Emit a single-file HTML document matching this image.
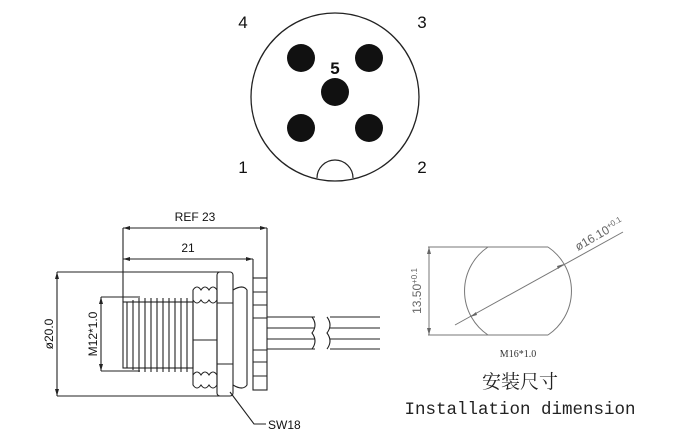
<!DOCTYPE html><html><head><style>body{margin:0;background:#fff}svg{display:block}</style></head><body>
<svg width="680" height="440" viewBox="0 0 680 440" xmlns="http://www.w3.org/2000/svg" font-family="Liberation Sans, sans-serif">
<circle cx="335" cy="97" r="84" fill="none" stroke="#222" stroke-width="1.3"/>
<path d="M317 178 A18 18 0 0 1 353 178" fill="none" stroke="#222" stroke-width="1.2"/>
<g fill="#111"><circle cx="301" cy="58" r="14"/><circle cx="369" cy="58" r="14"/><circle cx="335" cy="92" r="14"/><circle cx="301" cy="128" r="14"/><circle cx="369" cy="128" r="14"/></g>
<g font-size="17" text-anchor="middle" fill="#111"><text x="243" y="28">4</text><text x="422" y="28">3</text><text x="335" y="74" font-weight="bold">5</text><text x="243" y="173">1</text><text x="422" y="173">2</text></g>
<g stroke="#222" stroke-width="1.1" fill="none">
<path d="M123 228H267M123 259H253M123 228V302M267 228V278M253 259V278"/>
<path d="M57 272V396M57 272H227M57 396H227M101 297V371M101 297H140M101 371H140"/>
<rect x="123" y="302" width="70" height="66"/>
<path d="M127 302V368M133 300V370M139 298V372M145 298V372M151 298V372M157 298V372M163 298V372M169 298V372M175 298V372M181 298V372M187 298V372"/>
<path d="M193 290 q4 -6 8 0 q4 -6 8 0 q4 -6 8 0 V385 q-4 6 -8 0 q-4 6 -8 0 q-4 6 -8 0Z"/>
<path d="M193 300 q4 6 8 0 q4 6 8 0 q4 6 8 0M193 375 q4 -6 8 0 q4 -6 8 0 q4 -6 8 0M193 340H217"/>
<rect x="217" y="272" width="16" height="124" rx="3"/>
<path d="M217 303H233M217 364H233M233 290 q10 -6 14 0 V385 q-4 6 -14 0"/>
<rect x="253" y="278" width="14" height="112"/>
<path d="M253 292H267M253 305H267M253 318H267M253 350H267M253 362H267M253 376H267"/>
<path d="M267 317H315M267 328H315M267 339H315M267 349H315"/>
<path d="M312 317 q6 8 0 16 q6 8 0 16M327 317 q6 8 0 16 q6 8 0 16"/>
<path d="M330 317H380M330 328H380M330 339H380M330 349H380"/>
<path d="M230 392L254 424H266"/>
</g>
<g fill="#222"><path d="M123 228l7-2v4zM267 228l-7-2v4zM123 259l7-2v4zM253 259l-7-2v4zM57 272l-2 7h4zM57 396l-2-7h4zM101 297l-2 7h4zM101 371l-2-7h4z"/></g>
<g font-size="12" fill="#111"><text x="195" y="221" text-anchor="middle">REF 23</text><text x="188" y="252" text-anchor="middle">21</text><text x="268" y="429">SW18</text>
<text transform="translate(53,334) rotate(-90)" text-anchor="middle">ø20.0</text><text transform="translate(97,334) rotate(-90)" text-anchor="middle">M12*1.0</text></g>
<g stroke="#777" stroke-width="1" fill="none">
<path d="M488 247A53 53 0 0 0 488 335M548 247A53 53 0 0 1 548 335M428 247H548M428 335H548M429 247V335M455 325L623 232"/>
</g>
<g fill="#666"><path d="M429 247l-2 7h4zM429 335l-2-7h4zM470 317l6-5 1 3zM564 264l-6 5-1-3z"/></g>
<g fill="#666" font-size="12"><text transform="translate(421,291) rotate(-90)" text-anchor="middle">13.50<tspan font-size="8" dy="-4">+0.1</tspan></text>
<text transform="translate(578,251) rotate(-30)">ø16.10<tspan font-size="8" dy="-4">+0.1</tspan></text></g>
<text x="518" y="357" font-size="10" text-anchor="middle" font-family="Liberation Serif, serif" fill="#333">M16*1.0</text>
<text x="520" y="388" font-size="19" text-anchor="middle" font-family="Liberation Serif, Noto Serif CJK SC, serif" fill="#222">安装尺寸</text>
<text x="520" y="414" font-size="17.5" text-anchor="middle" font-family="Liberation Mono, monospace" fill="#222">Installation dimension</text>
</svg></body></html>
